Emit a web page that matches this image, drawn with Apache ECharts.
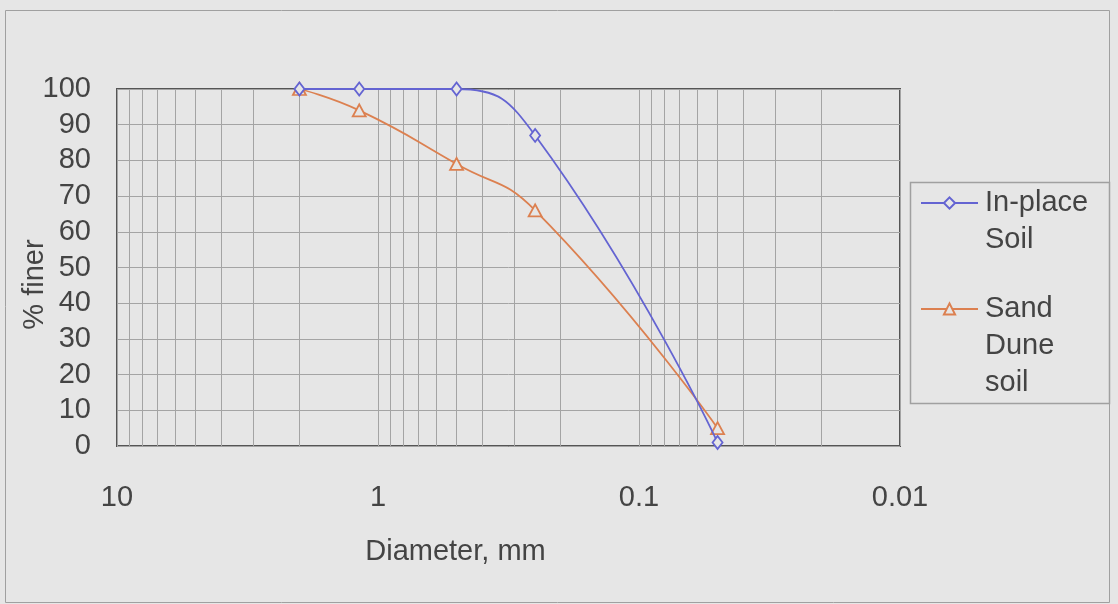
<!DOCTYPE html>
<html>
<head>
<meta charset="utf-8">
<script src="https://cdn.jsdelivr.net/npm/echarts@6/dist/echarts.min.js"></script>
<style>
  html, body { margin: 0; padding: 0; background: #e6e6e6; }
  #chart { width: 1118px; height: 604px; }
</style>
</head>
<body>
<div id="chart"></div>
<script>
  // sieve sizes (mm) and percent passing
  const diameters = [2, 1.18, 0.5, 0.25, 0.05];
  const inPlace = [100, 100, 100, 87, 1];
  const sandDune = [100, 94, 79, 66, 5];
  const yTicks = [0, 10, 20, 30, 40, 50, 60, 70, 80, 90, 100];
  // minor log grid lines
  const minorLines = [9, 8, 7, 6, 5, 4, 3, 2, 0.9, 0.8, 0.7, 0.6, 0.5, 0.4, 0.3, 0.2,
    0.09, 0.08, 0.07, 0.06, 0.05, 0.04, 0.03, 0.02];

  const font = "'Liberation Sans', Arial, sans-serif";
  const textColor = "#444";
  const bg = "#e6e6e6";
  const lh = 37;
  const blue = "#6464d2";
  const orange = "#dc8050";

  const chart = echarts.init(document.getElementById("chart"));
  const pairs = (ys) => diameters.map((d, i) => [d, ys[i]]);

  // icon sits on the middle line, so pad with empty lines above
  const legendBase = {
    left: 920,
    padding: 0,
    itemWidth: 57,
    itemHeight: 14,
    selectedMode: false,
    textStyle: { fontSize: 29, lineHeight: lh, color: textColor, fontFamily: font, padding: [0, 0, 0, 2] },
  };

  chart.setOption({
    backgroundColor: bg,
    animation: false,
    textStyle: { fontFamily: font },
    graphic: [
      {
        type: "rect",
        shape: { x: 5.5, y: 10.5, width: 1104, height: 592 },
        style: { fill: "none", stroke: "#a0a0a0", lineWidth: 1 },
        silent: true,
      },
      {
        type: "rect",
        shape: { x: 910.5, y: 182.5, width: 199, height: 221 },
        style: { fill: "none", stroke: "#a0a0a0", lineWidth: 1.5 },
        silent: true,
      },
    ],
    grid: {
      left: 117,
      right: 218,
      top: 89,
      bottom: 158,
      outerBoundsMode: "none",
      containLabel: false,
      show: true,
      borderColor: "#555",
      borderWidth: 2,
      backgroundColor: "transparent",
    },
    legend: [
      Object.assign({}, legendBase, {
        top: 147.5,
        data: ["In-place Soil"],
        formatter: () => "\nIn-place\nSoil",
      }),
      Object.assign({}, legendBase, {
        top: 216.5,
        data: ["Sand Dune soil"],
        formatter: () => "\n\nSand\nDune\nsoil",
      }),
    ],
    xAxis: {
      type: "log",
      logBase: 10,
      min: 0.01,
      max: 10,
      inverse: true,
      name: "Diameter, mm",
      nameLocation: "middle",
      nameGap: 91,
      nameMoveOverlap: false,
      nameTextStyle: { fontSize: 29, color: textColor, padding: [0, 106, 0, 0] },
      axisLine: { show: false },
      axisTick: { show: false },
      axisLabel: {
        fontSize: 29,
        color: textColor,
        margin: 37,
        formatter: (v) => String(Number(v.toPrecision(3))),
      },
      splitLine: { show: true, lineStyle: { color: "#a4a4a4", width: 1 } },
    },
    yAxis: {
      type: "value",
      min: yTicks[0],
      max: yTicks[yTicks.length - 1],
      interval: 10,
      name: "% finer",
      nameLocation: "middle",
      nameGap: 68,
      nameMoveOverlap: false,
      nameTextStyle: { fontSize: 29, color: textColor, padding: [0, 34, 0, 0] },
      axisLine: { show: false },
      axisTick: { show: false },
      axisLabel: { fontSize: 29, color: textColor, margin: 26 },
      splitLine: { show: true, lineStyle: { color: "#a4a4a4", width: 1 } },
    },
    series: [
      {
        name: "In-place Soil",
        type: "line",
        data: pairs(inPlace),
        smooth: true,
        symbol: "diamond",
        symbolSize: [10, 13],
        lineStyle: { color: blue, width: 1.8 },
        itemStyle: { color: bg, borderColor: blue, borderWidth: 1.8 },
        z: 3,
        markLine: {
          silent: true,
          symbol: ["none", "none"],
          label: { show: false },
          lineStyle: { color: "#a4a4a4", width: 1, type: "solid" },
          emphasis: { disabled: true },
          z: 1,
          data: minorLines.map((v) => ({ xAxis: v })),
        },
      },
      {
        name: "Sand Dune soil",
        type: "line",
        data: pairs(sandDune),
        smooth: true,
        symbol: "triangle",
        symbolSize: [13, 12],
        lineStyle: { color: orange, width: 1.8 },
        itemStyle: { color: bg, borderColor: orange, borderWidth: 1.8 },
        z: 2,
      },
    ],
  });
</script>
</body>
</html>
